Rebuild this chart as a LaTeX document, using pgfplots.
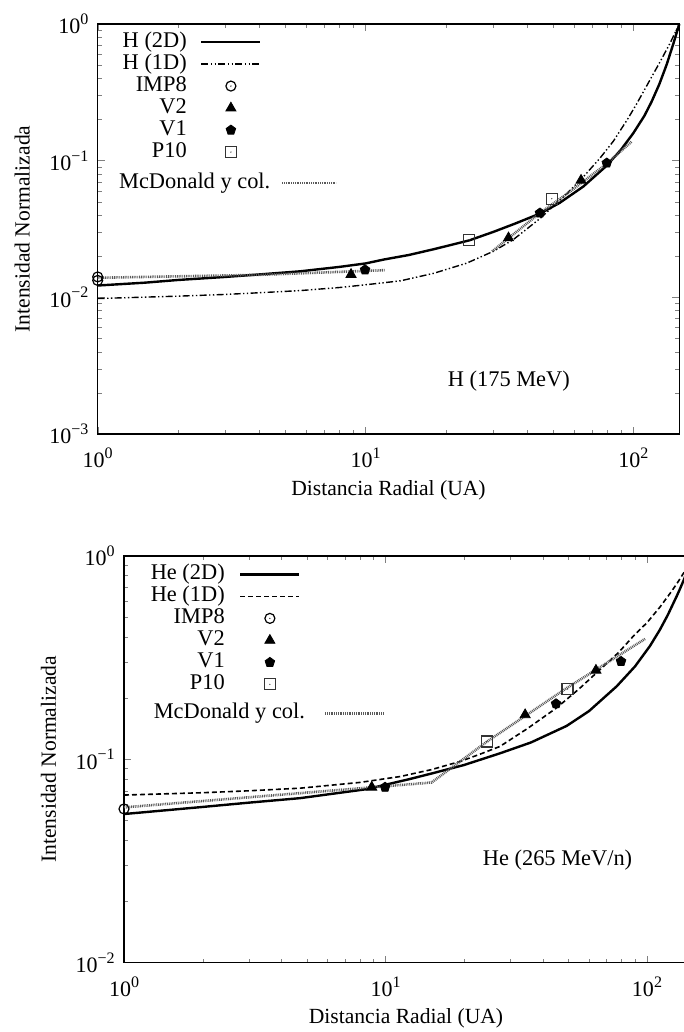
\documentclass[border=0pt]{standalone}
\usepackage{fontspec}
\setmainfont{Liberation Serif}
\usepackage{pgfplots}
\pgfplotsset{compat=1.18}
\usetikzlibrary{plotmarks}

% circle and square with a centre dot
\pgfdeclareplotmark{odot}{%
  \pgfpathcircle{\pgfpointorigin}{\pgfplotmarksize}\pgfusepathqstroke
  \pgfpathcircle{\pgfpointorigin}{0.35pt}\pgfusepathqfill}
\pgfdeclareplotmark{boxdot}{%
  \pgfpathrectangle{\pgfpoint{-\pgfplotmarksize}{-\pgfplotmarksize}}%
    {\pgfpoint{2\pgfplotmarksize}{2\pgfplotmarksize}}\pgfusepathqstroke
  \pgfpathcircle{\pgfpointorigin}{0.35pt}\pgfusepathqfill}

\newcommand{\dec}[1]{10\raisebox{0.42em}{\fontsize{8}{9}\selectfont #1}}
\newcommand{\lbl}{\fontsize{10.8}{13}\selectfont}
\newcommand{\keyfont}{\fontsize{11.2}{13}\selectfont}
\newcommand{\tickfont}{\fontsize{11}{13}\selectfont}

\tikzset{
  twod/.style={black, line width=1.2pt},
  oned/.style={black, line width=0.7pt,
    dash pattern=on 3.5pt off 1.2pt on 0.7pt off 1.2pt on 0.7pt off 1.2pt},
  onedhe/.style={black, line width=0.8pt, dash pattern=on 2.5pt off 1.5pt},
  mcd/.style={black!65, line width=1.3pt, dash pattern=on 0.45pt off 0.45pt},
}

\begin{document}
\begin{tikzpicture}
\useasboundingbox (0,0) rectangle (342pt,516pt);

% ---------------- Hydrogen, 175 MeV ----------------
\begin{axis}[
  at={(48.85pt,299pt)}, anchor=south west,
  scale only axis, width=290.8pt, height=205pt,
  xmode=log, ymode=log, clip=false,
  xmin=1, xmax=148.5, ymin=1e-3, ymax=1,
  tick align=inside, major tick length=3.5pt, minor tick length=2pt,
  axis line style={line width=0.6pt},
  xtick={1,10,100}, xticklabels={\dec{0},\dec{1},\dec{2}},
  minor xtick={2,3,4,5,6,7,8,9,20,30,40,50,60,70,80,90},
  ytick={1e-3,1e-2,1e-1,1},
  yticklabels={\dec{−3},\dec{−2},\dec{−1},\dec{0}},
  minor ytick={2e-3,3e-3,4e-3,5e-3,6e-3,7e-3,8e-3,9e-3,
               2e-2,3e-2,4e-2,5e-2,6e-2,7e-2,8e-2,9e-2,
               2e-1,3e-1,4e-1,5e-1,6e-1,7e-1,8e-1,9e-1},
  xticklabel style={font=\tickfont, anchor=base, inner sep=0pt, yshift=-17pt},
  yticklabel style={font=\tickfont, anchor=east, inner sep=0pt, xshift=-4.5pt},
  xlabel={Distancia Radial (UA)},
  ylabel={Intensidad Normalizada},
  xlabel style={font=\lbl, at={(rel axis cs:0.5,0)}, anchor=center, yshift=-28pt},
  ylabel style={font=\lbl, at={(rel axis cs:0,0.5)}, anchor=center, yshift=37.75pt},
  legend plot pos=right,
  legend cell align=right,
  legend style={draw=none, fill=none, inner sep=0pt, row sep=0pt, font=\keyfont,
    nodes={inner sep=0pt, text height=8pt, text depth=3pt},
    column sep=6.7pt,
    at={(rel axis cs:0.2825,0.9837)}, anchor=north east},
  legend image code/.code={\draw[mark repeat=2, mark phase=2, #1]
      plot coordinates {(0pt,0pt) (14.75pt,0pt) (29.5pt,0pt)};},
]
\addplot[twod, mark=none] coordinates {
  (1,0.0122) (1.5,0.0128) (2,0.0134) (3,0.0141) (4,0.0147) (5.7,0.0155)
  (8,0.0167) (10,0.0177) (11.7,0.0189) (14.5,0.0204) (18,0.0225)
  (24.4,0.0261) (30,0.0301) (36,0.0345) (44.8,0.0410) (53,0.0490)
  (65,0.0646) (79.6,0.092) (90,0.1205) (100,0.159) (110,0.213) (117,0.270)
  (125,0.362) (133.3,0.507) (141,0.714) (148.5,1.0)};
\addlegendentry{H (2D)}
\addplot[oned, mark=none] coordinates {
  (1,0.0098) (2,0.0102) (3,0.0105) (4,0.0108) (5.7,0.0112) (8,0.0118)
  (9.8,0.0123) (13.5,0.0132) (18,0.0150) (23.9,0.0178) (30,0.0217)
  (35.6,0.0264) (44.8,0.0377) (55,0.0545) (63.8,0.0729) (75,0.104)
  (84.2,0.1387) (95,0.200) (103,0.261) (115,0.385) (126,0.531) (137,0.721)
  (148.5,1.0)};
\addlegendentry{H (1D)}
\addplot[only marks, mark=odot, mark size=2.5pt, mark options={black, line width=0.6pt}]
  coordinates {(1,0.0141) (1,0.0133)};
\addlegendentry{IMP8}
\addplot[only marks, mark=triangle*, mark size=2.9pt, mark options={black}]
  coordinates {(8.83,0.0147) (34.2,0.0272) (63.8,0.0718)};
\addlegendentry{V2}
\addplot[only marks, mark=pentagon*, mark size=2.5pt, mark options={black}]
  coordinates {(9.96,0.0159) (44.8,0.0414) (79.6,0.0961)};
\addlegendentry{V1}
\addplot[only marks, mark=boxdot, mark size=2.75pt, mark options={black!80, line width=0.6pt}]
  coordinates {(24.4,0.0264) (49.6,0.0527)};
\addlegendentry{P10}
\addplot[mcd, mark=none, unbounded coords=jump, forget plot] coordinates {
  (1,0.0139) (4,0.0146) (11.8,0.0158) (20,nan)
  (29.7,0.0217) (44.8,0.0414) (56.4,0.057) (79.6,0.095) (98.6,0.138)};
\node[font=\keyfont] at (axis cs:34.3,0.00245) {H (175 MeV)};
\end{axis}
% separate key entry for the model curve
\begin{axis}[
  at={(48.85pt,299pt)}, anchor=south west,
  scale only axis, width=290.8pt, height=205pt,
  xmode=log, ymode=log, hide axis,
  xmin=1, xmax=148.5, ymin=1e-3, ymax=1,
  legend style={draw=none, fill=none, inner sep=0pt, font=\keyfont,
    nodes={inner sep=0pt, text height=8pt, text depth=3pt},
    column sep=5.3pt,
    at={(rel axis cs:0.413,0.6398)}, anchor=north east},
  legend plot pos=right,
  legend image code/.code={\draw[#1] (0pt,0pt) -- (27pt,0pt);},
]
\addlegendimage{mcd}
\addlegendentry{McDonald y col.}
\end{axis}

% ---------------- Helium, 265 MeV/n ----------------
\begin{axis}[
  at={(62pt,34.7pt)}, anchor=south west,
  scale only axis, width=282pt, height=203.3pt,
  xmode=log, ymode=log, clip=false,
  xmin=1, xmax=143.5, ymin=1e-2, ymax=1,
  tick align=inside, major tick length=3.5pt, minor tick length=2pt,
  axis line style={line width=0.6pt},
  ytick pos=left,
  xtick={1,10,100}, xticklabels={\dec{0},\dec{1},\dec{2}},
  minor xtick={2,3,4,5,6,7,8,9,20,30,40,50,60,70,80,90},
  ytick={1e-2,1e-1,1},
  yticklabels={\dec{−2},\dec{−1},\dec{0}},
  minor ytick={2e-2,3e-2,4e-2,5e-2,6e-2,7e-2,8e-2,9e-2,
               2e-1,3e-1,4e-1,5e-1,6e-1,7e-1,8e-1,9e-1},
  xticklabel style={font=\tickfont, anchor=base, inner sep=0pt, yshift=-17pt},
  yticklabel style={font=\tickfont, anchor=east, inner sep=0pt, xshift=-4.5pt},
  xlabel={Distancia Radial (UA)},
  ylabel={Intensidad Normalizada},
  xlabel style={font=\lbl, at={(rel axis cs:0.5,0)}, anchor=center, yshift=-28pt},
  ylabel style={font=\lbl, at={(rel axis cs:0,0.5)}, anchor=center, yshift=37.75pt},
  legend plot pos=right,
  legend cell align=right,
  legend style={draw=none, fill=none, inner sep=0pt, row sep=0pt, font=\keyfont,
    nodes={inner sep=0pt, text height=8pt, text depth=3pt},
    column sep=7.2pt,
    at={(rel axis cs:0.3138,0.9828)}, anchor=north east},
  legend image code/.code={\draw[mark repeat=2, mark phase=2, #1]
      plot coordinates {(0pt,0pt) (14.75pt,0pt) (29.5pt,0pt)};},
]
\addplot[twod, mark=none] coordinates {
  (1,0.0538) (2,0.0583) (3,0.0612) (4.71,0.0644) (8.47,0.0713) (12.4,0.0800)
  (15.2,0.0855) (19.95,0.0937) (27.4,0.107) (36,0.121) (49.3,0.146)
  (60,0.1726) (76.6,0.2286) (90,0.2864) (102.6,0.3606) (112,0.4335)
  (120,0.5117) (130,0.6358) (133.7,0.689) (138.5,0.766) (143.5,0.865)};
\addlegendentry{He (2D)}
\addplot[onedhe, mark=none] coordinates {
  (1,0.0667) (2,0.0685) (3,0.0700) (4.71,0.0721) (8,0.0770) (11.4,0.0823)
  (15,0.089) (19.3,0.0976) (23,0.106) (27.4,0.1157) (35,0.142) (45.1,0.179)
  (55,0.222) (66.1,0.276) (78,0.336) (88.6,0.403) (100,0.47) (112,0.56)
  (122,0.65) (130,0.73) (138.5,0.83) (143.5,0.90)};
\addlegendentry{He (1D)}
\addplot[only marks, mark=odot, mark size=2.5pt, mark options={black, line width=0.6pt}]
  coordinates {(1,0.057)};
\addlegendentry{IMP8}
\addplot[only marks, mark=triangle*, mark size=2.9pt, mark options={black}]
  coordinates {(8.86,0.0729) (34.2,0.1656) (63.8,0.274)};
\addlegendentry{V2}
\addplot[only marks, mark=pentagon*, mark size=2.5pt, mark options={black}]
  coordinates {(9.96,0.0729) (44.9,0.1876) (79.6,0.303)};
\addlegendentry{V1}
\addplot[only marks, mark=boxdot, mark size=2.75pt, mark options={black!80, line width=0.6pt}]
  coordinates {(24.4,0.1224) (49.7,0.2216)};
\addlegendentry{P10}
\addplot[mcd, mark=none, forget plot] coordinates {
  (1,0.058) (15,0.0769) (24.4,0.122) (49.3,0.224) (98.3,0.391)};
\node[font=\keyfont] at (axis cs:45.5,0.032) {He (265 MeV/n)};
\end{axis}
\begin{axis}[
  at={(62pt,34.7pt)}, anchor=south west,
  scale only axis, width=282pt, height=203.3pt,
  xmode=log, ymode=log, hide axis,
  xmin=1, xmax=143.5, ymin=1e-2, ymax=1,
  legend style={draw=none, fill=none, inner sep=0pt, font=\keyfont,
    nodes={inner sep=0pt, text height=8pt, text depth=3pt},
    column sep=9.5pt,
    at={(rel axis cs:0.4645,0.6402)}, anchor=north east},
  legend plot pos=right,
  legend image code/.code={\draw[#1] (0pt,0pt) -- (29.5pt,0pt);},
]
\addlegendimage{mcd}
\addlegendentry{McDonald y col.}
\end{axis}
\end{tikzpicture}
\end{document}
